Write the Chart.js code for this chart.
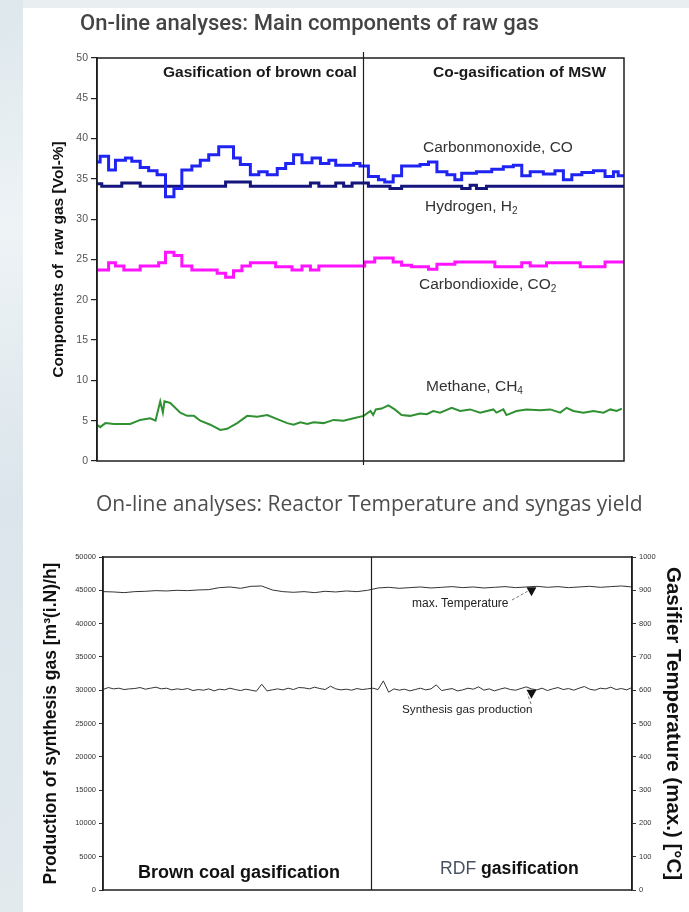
<!DOCTYPE html>
<html><head><meta charset="utf-8">
<script src="https://cdn.jsdelivr.net/npm/chart.js@4"></script>
<style>
html,body{margin:0;padding:0;}
body{width:689px;height:912px;position:relative;overflow:hidden;background:#e9eef1;font-family:"Liberation Sans",Arial,sans-serif;}
#strip{position:absolute;left:0;top:0;width:23px;height:912px;background:linear-gradient(165deg,#dde7ec 0%,#eef3f6 25%,#dbe5eb 55%,#e2eaee 100%);}
#panel{position:absolute;left:23px;top:8px;right:0;bottom:0;background:#fff;}
canvas{position:absolute;left:0;}
.lbl{position:absolute;white-space:nowrap;line-height:1;transform:translateY(-50%);color:#333;}
.lbl sub{font-size:65%;vertical-align:-3px;line-height:0;}
</style></head><body>
<div id="strip"></div><div id="panel"></div>
<canvas id="c1" width="689" height="480" style="top:0"></canvas>
<canvas id="c2" width="689" height="432" style="top:480px"></canvas>

<div class="lbl" style="left:80px;top:23px;font-family:'Roboto',sans-serif;font-weight:500;font-size:22px;color:#444;">On-line analyses: Main components of raw gas</div>
<div class="lbl" style="left:163px;top:72px;font-weight:bold;font-size:15.5px;color:#1a1a1a;">Gasification of brown coal</div>
<div class="lbl" style="left:433px;top:72px;font-weight:bold;font-size:15.5px;color:#1a1a1a;">Co-gasification of MSW</div>
<div class="lbl" style="left:423px;top:147px;font-size:15.5px;">Carbonmonoxide, CO</div>
<div class="lbl" style="left:425px;top:206px;font-size:15.5px;">Hydrogen, H<sub>2</sub></div>
<div class="lbl" style="left:419px;top:284px;font-size:15.5px;">Carbondioxide, CO<sub>2</sub></div>
<div class="lbl" style="left:426px;top:386px;font-size:15.5px;">Methane, CH<sub>4</sub></div>

<div class="lbl" style="left:96px;top:503px;font-family:'Open Sans',sans-serif;font-size:21px;color:#4d4d4d;">On-line analyses: Reactor Temperature and syngas yield</div>
<div class="lbl" style="left:412px;top:603px;font-size:12px;color:#222;">max. Temperature</div>
<div class="lbl" style="left:402px;top:709px;font-size:11.7px;color:#222;">Synthesis gas production</div>
<div class="lbl" style="left:138px;top:872px;font-weight:bold;font-size:18px;color:#111;">Brown coal gasification</div>
<div class="lbl" style="left:440px;top:869px;font-size:17.6px;color:#111;"><span style="color:#4a5262;">RDF</span> <b>gasification</b></div>

<script>
// ---------- Top chart data (x: relative time 0..100, divider at 50.5) ----------
const coX  = [0,0.6,2.2,3.5,5.4,6.6,8.2,9.8,11.4,13.0,14.6,16.1,18.0,19.6,21.2,23.1,25.9,27.2,29.1,30.7,32.3,34.2,35.8,37.3,38.9,40.8,42.4,44.0,45.3,48.7,49.9,51.5,53.4,54.6,56.2,57.8,61.3,62.9,64.5,66.4,67.9,69.2,72.0,74.9,77.1,79.0,80.6,82.2,84.7,86.9,88.5,90.1,92.0,94.2,96.4,98.0,98.9,100];
const coY  = [37.1,37.8,36.1,37.3,37.6,37.2,36.4,36.0,35.5,32.8,33.8,36.1,36.6,37.3,38.0,39.0,37.6,36.8,35.5,35.9,35.5,36.3,36.9,38.0,37.0,37.6,36.9,37.3,36.7,36.9,36.6,35.3,34.9,34.6,35.4,36.6,36.8,37.1,35.9,35.5,34.9,35.7,35.9,36.2,36.5,36.7,35.4,35.9,35.6,36.0,34.9,35.5,35.8,36.0,35.3,35.9,35.4,35.4];
const h2X  = [0,0.9,4.7,8.2,24.4,29.1,40.5,42.1,45.3,46.8,48.4,51.5,55.6,57.8,69.2,70.8,72.0,73.9,100];
const h2Y  = [34.4,34.1,34.5,34.1,34.6,34.1,34.5,34.1,34.5,34.1,34.5,34.1,33.8,34.1,33.8,34.2,33.8,34.1,34.1];
const co2X = [0,2.2,3.5,5.1,8.2,11.7,13.0,14.6,16.1,18.0,22.8,24.4,25.9,27.5,29.1,33.9,37.0,38.9,40.5,42.1,50.8,52.7,56.2,57.8,59.7,62.9,64.5,67.9,75.5,80.6,82.2,85.3,91.7,96.4,100];
const co2Y = [23.7,24.6,24.2,23.7,24.2,24.6,25.9,25.5,24.2,23.7,23.3,22.8,23.6,24.2,24.6,24.1,23.7,24.2,23.7,24.2,24.7,25.2,24.7,24.3,24.1,23.8,24.4,24.7,24.1,24.6,24.2,24.6,24.1,24.7,24.7];
const ch4X = [0,0.6,1.6,3.2,6.3,8.2,10.1,11.1,12.0,12.5,12.8,13.9,15.8,17.1,18.4,19.6,21.5,23.4,24.7,26.6,28.5,30.4,32.3,34.2,36.1,37.3,38.6,39.9,41.1,43.0,44.9,46.8,48.7,50.6,51.9,52.4,52.9,54.0,55.3,56.5,57.8,59.4,61.3,62.6,63.8,65.1,67.3,68.9,70.8,72.7,75.2,75.8,77.1,77.7,79.6,81.5,84.1,86.0,87.9,89.1,90.4,92.3,94.2,96.1,97.4,98.6,99.6];
const ch4Y = [4.5,4.2,4.7,4.6,4.6,5.1,5.3,5.0,7.4,6.0,7.4,7.2,6.0,5.6,5.6,5.0,4.5,3.85,4.0,4.7,5.6,5.5,5.7,5.2,4.7,4.5,4.8,4.6,4.8,4.7,5.1,5.0,5.3,5.6,6.2,5.7,6.4,6.5,6.9,6.4,5.7,5.6,5.9,5.8,6.2,6.0,6.6,6.2,6.4,6.0,6.4,6.0,6.4,5.7,6.2,6.4,6.3,6.4,6.0,6.6,6.2,6.0,6.2,6.0,6.4,6.2,6.5];
const topTicks = [0,5,10,15,20,25,30,35,40,45,50];
const topDivider = 50.5;

// ---------- Bottom chart data ----------
const tempC = [896,895,893,896,897,899,898,900,899,901,902,908,910,906,912,913,901,896,894,896,893,897,895,898,896,900,907,909,906,908,910,907,909,911,908,910,907,909,911,908,910,912,909,911,908,910,912,909,911,913,910];
const syngas = [30100,30400,30200,30300,30100,30200,30250,30400,30150,30300,30450,30200,30300,30050,30200,30100,30250,29950,30100,30000,30200,29900,30150,30050,30300,30100,29950,30150,30000,29850,30900,29900,30050,30200,30050,30300,30100,30400,30350,30200,30450,30250,30100,30600,30200,30050,30150,30000,30250,30100,30200,
                30300,30100,31400,29700,30200,30000,30150,29900,30100,30300,30050,30200,30800,29950,30100,30250,29900,30050,30300,30150,30500,30000,30200,29900,30150,30350,30100,30000,30250,30500,30200,30050,30300,29950,30200,30400,30100,30250,30000,30300,30550,30150,30000,30300,30200,30450,30100,30250,30050,30400];
const bottomDivider = 50.7;
const arrowAt = 81;

function pairs(xs, ys){ return xs.map((x,i)=>({x:x,y:ys[i]})); }
function even(ys){ const n=ys.length-1; return ys.map((y,i)=>({x:i*100/n,y:y})); }
const plain = v => String(v);

function framePlugin(divX, extTop, extBot){
  return {
    id:'frame',
    afterDatasetsDraw(chart){
      const {ctx, chartArea:a, scales} = chart;
      ctx.save();
      ctx.strokeStyle='#1e1e1e'; ctx.lineWidth=1.5;
      ctx.strokeRect(a.left, a.top, a.right-a.left, a.bottom-a.top);
      const dx = Math.round(scales.x.getPixelForValue(divX))+0.5;
      ctx.lineWidth=1.2;
      ctx.beginPath(); ctx.moveTo(dx, a.top-extTop); ctx.lineTo(dx, a.bottom+extBot); ctx.stroke();
      ctx.restore();
    }
  };
}

new Chart(document.getElementById('c1'), {
  type:'line',
  data:{datasets:[
    {label:'Carbonmonoxide, CO', data:pairs(coX,coY), borderColor:'#1f24f2', borderWidth:3, stepped:true, pointRadius:0},
    {label:'Hydrogen, H2', data:pairs(h2X,h2Y), borderColor:'#15157e', borderWidth:3, stepped:true, pointRadius:0},
    {label:'Carbondioxide, CO2', data:pairs(co2X,co2Y), borderColor:'#ff14ff', borderWidth:3, stepped:true, pointRadius:0},
    {label:'Methane, CH4', data:pairs(ch4X,ch4Y), borderColor:'#2f9132', borderWidth:2, tension:0, pointRadius:0}
  ]},
  options:{
    responsive:false, animation:false, events:[],
    layout:{padding:{left:0, top:58, right:65, bottom:19}},
    plugins:{legend:{display:false}, tooltip:{enabled:false}},
    scales:{
      x:{type:'linear', min:0, max:100, display:false},
      y:{min:0, max:50, afterBuildTicks(s){ s.ticks = topTicks.map(v=>({value:v})); },
         ticks:{color:'#555', font:{size:10.5, family:'Liberation Sans'}, padding:3, callback:plain},
         grid:{drawOnChartArea:false, tickLength:6, color:'#222', lineWidth:1.2},
         border:{color:'#1e1e1e', width:1.5},
         title:{display:true, text:'Components of  raw gas [Vol-%]', color:'#111', font:{size:15.5, weight:'bold', family:'Liberation Sans'}, padding:{top:49, bottom:0}},
         afterFit(s){ s.width = 97; }}
    }
  },
  plugins:[framePlugin(topDivider, 6, 4)]
});

const arrows = {
  id:'arrows',
  afterDatasetsDraw(chart){
    const {ctx, scales} = chart;
    const x = scales.x.getPixelForValue(arrowAt);
    const items = [
      {y: scales.y2.getPixelForValue(tempC[Math.round(arrowAt/2)]), tx: 512, ty: 600},
      {y: scales.y.getPixelForValue(syngas[arrowAt]), tx: 531, ty: 704}
    ];
    ctx.save();
    items.forEach(it=>{
      const top = it.y + 1;
      ctx.fillStyle='#111';
      ctx.beginPath(); ctx.moveTo(x-5, top); ctx.lineTo(x+5, top); ctx.lineTo(x, top+9); ctx.closePath(); ctx.fill();
      ctx.strokeStyle='#777'; ctx.lineWidth=1; ctx.setLineDash([3,2]);
      ctx.beginPath(); ctx.moveTo(it.tx, it.ty-480); ctx.lineTo(x-4, top+4); ctx.stroke();
      ctx.setLineDash([]);
    });
    ctx.restore();
  }
};

new Chart(document.getElementById('c2'), {
  type:'line',
  data:{datasets:[
    {label:'max. Temperature', data:even(tempC), yAxisID:'y2', borderColor:'#333', borderWidth:1, tension:0, pointRadius:0},
    {label:'Synthesis gas production', data:even(syngas), yAxisID:'y', borderColor:'#333', borderWidth:1, tension:0, pointRadius:0}
  ]},
  options:{
    responsive:false, animation:false, events:[],
    layout:{padding:{left:0, top:77, right:0, bottom:22}},
    plugins:{legend:{display:false}, tooltip:{enabled:false}},
    scales:{
      x:{type:'linear', min:0, max:100, display:false},
      y:{position:'left', min:0, max:50000,
         ticks:{stepSize:5000, color:'#333', font:{size:7.5, family:'Liberation Sans'}, padding:3, callback:plain},
         grid:{drawOnChartArea:false, tickLength:4, color:'#333', lineWidth:1},
         border:{color:'#1e1e1e', width:1.5},
         title:{display:true, text:'Production of synthesis gas [m³(i.N)/h]', color:'#111', font:{size:17.5, weight:'bold', family:'Liberation Sans'}, padding:{top:41, bottom:0}},
         afterFit(s){ s.width = 103; }},
      y2:{position:'right', min:0, max:1000,
         ticks:{stepSize:100, color:'#333', font:{size:7.5, family:'Liberation Sans'}, padding:3, callback:plain},
         grid:{drawOnChartArea:false, tickLength:4, color:'#333', lineWidth:1},
         border:{color:'#1e1e1e', width:1.5},
         title:{display:true, text:'Gasifier Temperature (max.) [°C]', color:'#111', font:{size:20.5, weight:'bold', family:'Liberation Sans'}, padding:{top:4, bottom:0}},
         afterFit(s){ s.width = 57; }}
    }
  },
  plugins:[framePlugin(bottomDivider, 0, 0), arrows]
});
</script>
</body></html>
